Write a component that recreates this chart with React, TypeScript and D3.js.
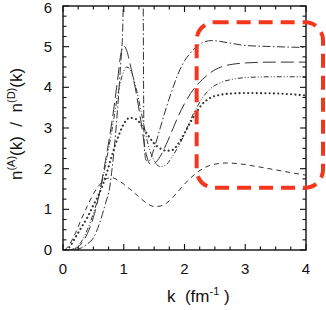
import * as d3 from 'd3';

type Pt = [number, number];

// k (fm^-1) vs ratio n(A)(k)/n(D)(k)
const shortDash: Pt[] = [
  [0.03, 0], [0.1, 0.12], [0.2, 0.4], [0.3, 0.75], [0.4, 1.08], [0.5, 1.38], [0.6, 1.6],
  [0.7, 1.74], [0.8, 1.78], [0.9, 1.72], [1.0, 1.62], [1.1, 1.5], [1.2, 1.37], [1.3, 1.24],
  [1.4, 1.13], [1.5, 1.07], [1.6, 1.08], [1.7, 1.15], [1.8, 1.28], [1.9, 1.45], [2.0, 1.62],
  [2.1, 1.77], [2.2, 1.9], [2.3, 2.0], [2.4, 2.07], [2.5, 2.11], [2.7, 2.14], [2.9, 2.12],
  [3.2, 2.05], [3.5, 1.97], [3.8, 1.89], [4.0, 1.84],
];

const dotted: Pt[] = [
  [0.05, 0], [0.1, 0.06], [0.2, 0.3], [0.3, 0.55], [0.4, 0.8], [0.5, 1.1], [0.6, 1.4],
  [0.7, 1.8], [0.8, 2.3], [0.9, 2.75], [1.0, 3.1], [1.1, 3.25], [1.2, 3.22], [1.3, 3.05],
  [1.4, 2.82], [1.5, 2.62], [1.6, 2.5], [1.7, 2.44], [1.8, 2.46], [1.9, 2.62], [2.0, 2.87],
  [2.1, 3.15], [2.2, 3.4], [2.3, 3.6], [2.4, 3.72], [2.6, 3.82], [2.8, 3.85], [3.0, 3.86],
  [3.5, 3.85], [4.0, 3.8],
];

const dashDotDot: Pt[] = [
  [0.1, 0], [0.2, 0.05], [0.3, 0.2], [0.4, 0.5], [0.5, 0.9], [0.6, 1.4], [0.7, 2.1],
  [0.8, 2.9], [0.9, 3.8], [1.0, 4.4], [1.05, 4.5], [1.1, 4.45], [1.2, 4.0], [1.3, 3.3],
  [1.4, 2.6], [1.5, 2.2], [1.6, 2.05], [1.7, 2.1], [1.8, 2.3], [1.9, 2.55], [2.0, 2.85],
  [2.1, 3.2], [2.2, 3.5], [2.3, 3.75], [2.4, 3.93], [2.6, 4.12], [2.8, 4.2], [3.0, 4.24],
  [3.5, 4.26], [4.0, 4.26],
];

const longDash: Pt[] = [
  [0.15, 0], [0.2, 0.03], [0.3, 0.15], [0.4, 0.4], [0.5, 0.8], [0.6, 1.4], [0.7, 2.2],
  [0.8, 3.1], [0.9, 4.2], [0.95, 4.8], [1.0, 5.02], [1.05, 4.9], [1.1, 4.6], [1.2, 3.9],
  [1.3, 3.0], [1.35, 2.5], [1.4, 2.2], [1.45, 2.1], [1.5, 2.12], [1.6, 2.3], [1.7, 2.6],
  [1.8, 2.95], [1.9, 3.3], [2.0, 3.6], [2.1, 3.85], [2.2, 4.05], [2.3, 4.2], [2.4, 4.33],
  [2.6, 4.5], [2.8, 4.57], [3.0, 4.6], [3.5, 4.62], [4.0, 4.62],
];

// dash-dot curve has a pole between k ~ 1.0 and 1.32
const dashDotLow: Pt[] = [
  [0.2, 0], [0.3, 0.05], [0.4, 0.15], [0.5, 0.3], [0.6, 0.65], [0.7, 1.15], [0.77, 1.55],
  [0.8, 1.9], [0.85, 2.6], [0.9, 3.5], [0.95, 4.6], [0.98, 5.3], [0.995, 6.3],
];
const dashDotHigh: Pt[] = [
  [1.32, 6.3], [1.325, 4.5], [1.33, 3.2], [1.34, 2.5], [1.37, 2.2], [1.42, 2.2], [1.5, 2.5],
  [1.6, 3.0], [1.7, 3.5], [1.8, 3.95], [1.9, 4.35], [2.0, 4.65], [2.1, 4.85], [2.2, 5.0],
  [2.3, 5.1], [2.45, 5.15], [2.7, 5.1], [3.0, 5.03], [3.5, 5.0], [4.0, 4.98],
];

const xMajor = [0, 1, 2, 3, 4];
const yMajor = [0, 1, 2, 3, 4, 5, 6];
const xMinor = d3.range(0, 4.001, 0.25);
const yMinor = d3.range(0, 6.001, 0.25);

// highlighted region (data units)
const boxK = [2.2, 4.28];
const boxV = [1.53, 5.6];

export default function App() {
  const width = 326;
  const height = 310;
  const x = d3.scaleLinear().domain([0, 4]).range([63, 306]);
  const y = d3.scaleLinear().domain([0, 6]).range([250, 6]);
  const line = d3
    .line<Pt>()
    .x((d) => x(d[0]))
    .y((d) => y(d[1]))
    .curve(d3.curveMonotoneX);

  const ink = '#333';
  const font = '"Liberation Sans", Arial, sans-serif';
  const [x0, x1] = x.range();
  const [y0, y1] = y.range();

  const series = [
    { data: shortDash, dash: '5 4', w: 1 },
    { data: dotted, dash: '0.1 4.2', w: 2.1, cap: 'round' },
    { data: dashDotDot, dash: '5 2 1 2 1 2', w: 1 },
    { data: longDash, dash: '13 5', w: 1 },
    { data: dashDotLow, dash: '8 2.5 1.5 2.5', w: 1 },
    { data: dashDotHigh, dash: '8 2.5 1.5 2.5', w: 1 },
  ];

  return (
    <svg width={width} height={height} style={{ position: 'absolute', left: 0, top: 0, background: '#fff' }}>
      <defs>
        <clipPath id="plot">
          <rect x={x0} y={y1} width={x1 - x0} height={y0 - y1} />
        </clipPath>
      </defs>

      <g clipPath="url(#plot)" fill="none" stroke={ink}>
        {series.map((s, i) => (
          <path
            key={i}
            d={line(s.data) || ''}
            strokeWidth={s.w}
            strokeDasharray={s.dash}
            strokeLinecap={(s.cap as any) || 'butt'}
          />
        ))}
      </g>

      {/* frame */}
      <rect x={x0} y={y1} width={x1 - x0} height={y0 - y1} fill="none" stroke="#111" strokeWidth={1.4} />

      {/* ticks, inward on all sides */}
      <g stroke="#111" strokeWidth={1.1}>
        {xMinor.map((k) => {
          const len = xMajor.includes(k) ? 6 : 3.5;
          return (
            <g key={'xt' + k}>
              <line x1={x(k)} x2={x(k)} y1={y0} y2={y0 - len} />
              <line x1={x(k)} x2={x(k)} y1={y1} y2={y1 + len} />
            </g>
          );
        })}
        {yMinor.map((v) => {
          const len = yMajor.includes(v) ? 6 : 3.5;
          return (
            <g key={'yt' + v}>
              <line x1={x0} x2={x0 + len} y1={y(v)} y2={y(v)} />
              <line x1={x1} x2={x1 - len} y1={y(v)} y2={y(v)} />
            </g>
          );
        })}
      </g>

      <g fontFamily={font} fontSize={15} fill="#111">
        {xMajor.map((k) => (
          <text key={'xl' + k} x={x(k)} y={274} textAnchor="middle">
            {k}
          </text>
        ))}
        {yMajor.map((v) => (
          <text key={'yl' + v} x={48} y={Math.max(y(v) + 5, 13)} textAnchor="middle">
            {v}
          </text>
        ))}
      </g>

      <text x={167} y={302} fontFamily={font} fontSize={17} fill="#111" style={{ whiteSpace: 'pre' }}>
        {'k  (fm'}
        <tspan dy={-7} fontSize={11}>-1</tspan>
        <tspan dy={7}>{' )'}</tspan>
      </text>

      <text
        transform={`translate(22,124) rotate(-90)`}
        fontFamily={font}
        fontSize={17}
        textAnchor="middle"
        fill="#111"
        style={{ whiteSpace: 'pre' }}
      >
        n<tspan dy={-7} fontSize={11}>(A)</tspan>
        <tspan dy={7}>{'(k)  /  n'}</tspan>
        <tspan dy={-7} fontSize={11}>(D)</tspan>
        <tspan dy={7}>(k)</tspan>
      </text>

      <rect
        x={x(boxK[0])}
        y={y(boxV[1])}
        width={x(boxK[1]) - x(boxK[0])}
        height={y(boxV[0]) - y(boxV[1])}
        rx={18}
        ry={18}
        fill="none"
        stroke="#f3361c"
        strokeWidth={4}
        strokeDasharray="14 8"
      />
    </svg>
  );
}
